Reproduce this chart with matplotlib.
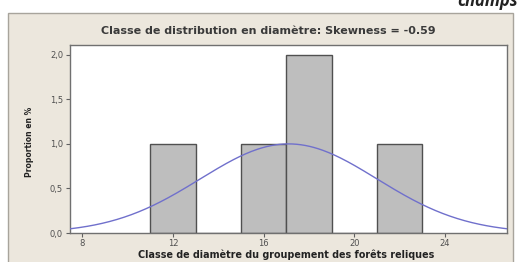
import numpy as np
import matplotlib
matplotlib.use("Agg")
import matplotlib.pyplot as plt
from matplotlib.patches import Rectangle

# Data
bin_edges = [11, 13, 15, 17, 19, 21, 23]
bin_counts = [1, 0, 1, 2, 0, 1]
fit_mean = 17.1
fit_sd = 3.9
fit_peak = 1.0
x_ticks = [8, 12, 16, 20, 24]
y_ticks = [0.0, 0.5, 1.0, 1.5, 2.0]
y_tick_labels = ["0,0", "0,5", "1,0", "1,5", "2,0"]
title = "Classe de distribution en diamètre: Skewness = -0.59"
xlabel = "Classe de diamètre du groupement des forêts reliques"
ylabel = "Proportion en %"
corner_text = "champs"

plt.rcParams['font.family'] = ['DejaVu Sans']

fig = plt.figure(figsize=(5.2, 2.62), dpi=100)
fig.patch.set_facecolor("white")

# beige panel
panel = Rectangle((8/520, -0.05), (513-8)/520, 1 - 13/262 + 0.05,
                  transform=fig.transFigure, facecolor="#ECE7DD",
                  edgecolor="#A8A49C", linewidth=1.0, zorder=-10)
fig.patches.append(panel)

fig.text(518/520, 1 - 6/262, corner_text, ha="right", va="baseline",
         fontsize=12, fontweight="bold", fontstyle="italic", color="#222222",
         family="Open Sans")

ax = fig.add_axes([70/520, 1 - 233/262, (507-70)/520, (233-45)/262])
ax.set_zorder(1)
ax.set_facecolor("white")

lefts = bin_edges[:-1]
widths = np.diff(bin_edges)
ax.bar(lefts, bin_counts, width=widths, align="edge", color="#BEBEBE",
       edgecolor="#505050", linewidth=1.0, zorder=2)

xs = np.linspace(7.46, 26.73, 300)
ys = fit_peak * np.exp(-0.5 * ((xs - fit_mean) / fit_sd) ** 2)
ax.plot(xs, ys, color="#7070CC", linewidth=1.0, zorder=3)

ax.set_xlim(7.46, 26.73)
ax.set_ylim(0, 2.11)
ax.set_xticks(x_ticks)
ax.set_yticks(y_ticks)
ax.set_yticklabels(y_tick_labels)
ax.tick_params(axis="both", direction="out", length=3, width=0.8,
               colors="#606060", labelsize=6, labelcolor="#505050", pad=2)
ax.tick_params(axis="x", pad=1.5)
for s in ax.spines.values():
    s.set_color("#707070")
    s.set_linewidth(1.0)

fig.text(268/520, 1 - 31/262, title, ha="center", va="center",
         fontsize=8, fontweight="bold", color="#3A3A3A")
fig.text(286/520, 1 - 255/262, xlabel, ha="center", va="center",
         fontsize=6.9, fontweight="bold", color="#222222")
fig.text(30/520, 1 - 142/262, ylabel, ha="center", va="center",
         rotation=90, fontsize=5.5, fontweight="bold", color="#222222")

fig.savefig("out.png", dpi=100)
